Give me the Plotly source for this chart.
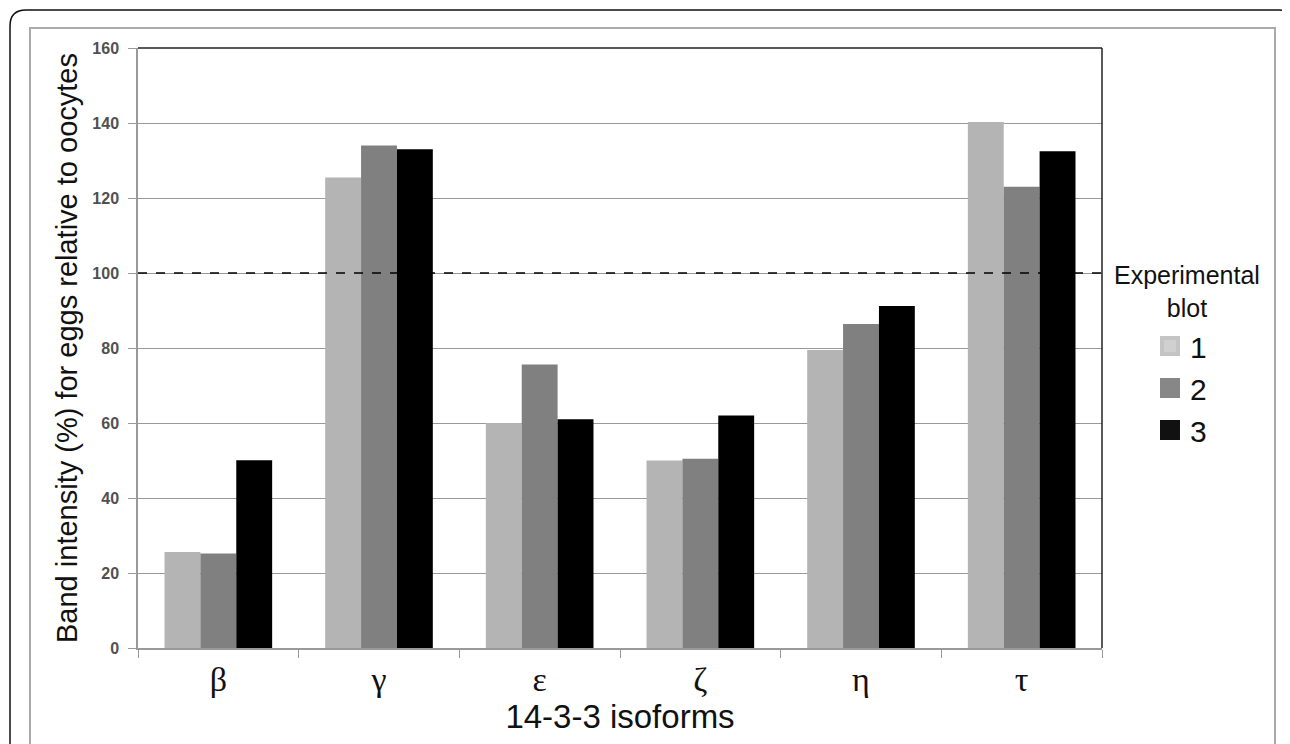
import plotly.graph_objects as go

categories = ["β", "γ", "ε", "ζ", "η", "τ"]
blot1 = [25.6, 125.5, 60.0, 50.0, 79.5, 140.3]
blot2 = [25.2, 134.0, 75.6, 50.5, 86.4, 123.0]
blot3 = [50.1, 133.0, 61.0, 62.0, 91.2, 132.5]
series_names = ["1", "2", "3"]
bar_colors = ["#b4b4b4", "#808080", "#000000"]
legend_fill = ["#d0d0d0", "#878787", "#111111"]
legend_line = ["#c4c4c4", "#878787", "#111111"]

OFF = 8  # page body margin
W, H = 1282, 736
# plot area in screen coordinates
L, R, T, B = 138, 1102, 48, 648


def px(x):
    return (x - L) / (R - L)


def py(y):
    return (B - y) / (B - T)


fig = go.Figure()
for name, vals, col in zip(series_names, [blot1, blot2, blot3], bar_colors):
    fig.add_trace(go.Bar(x=categories, y=vals, name=name, marker_color=col,
                         marker_line_width=0, showlegend=False))
for name, fc, lc in zip(series_names, legend_fill, legend_line):
    fig.add_trace(go.Scatter(x=[None], y=[None], mode="markers", name=name,
                             marker=dict(symbol="square", size=16, color=fc,
                                         line=dict(color=lc, width=4)),
                             showlegend=True))

shapes = []
# outer rounded border
shapes.append(dict(type="path", xref="paper", yref="paper",
                   path=(f"M {px(10)},{py(760)} L {px(10)},{py(26)} "
                         f"Q {px(10)},{py(10)} {px(26)},{py(10)} "
                         f"L {px(1279)},{py(10)} Q {px(1289)},{py(10)} {px(1289)},{py(18)}"),
                   line=dict(color="#111111", width=1.5)))
# inner gray frame
shapes.append(dict(type="path", xref="paper", yref="paper",
                   path=(f"M {px(30)},{py(760)} L {px(30)},{py(28)} "
                         f"L {px(1275)},{py(28)} L {px(1275)},{py(760)}"),
                   line=dict(color="#aaaaaa", width=2)))
# top and right black frame of plot
shapes.append(dict(type="line", xref="paper", yref="paper", x0=0, x1=1, y0=1, y1=1,
                   line=dict(color="#222222", width=1.5)))
shapes.append(dict(type="line", xref="paper", yref="paper", x0=1, x1=1, y0=0, y1=1,
                   line=dict(color="#222222", width=1.5)))
# reference line at 100
shapes.append(dict(type="line", xref="paper", yref="y", x0=0, x1=px(1108), y0=100, y1=100,
                   line=dict(color="#000000", width=1.5, dash="dash")))

fig.update_layout(
    width=W, height=H,
    margin=dict(l=L - OFF, r=W - (R - OFF), t=T - OFF, b=H - (B - OFF)),
    paper_bgcolor="white", plot_bgcolor="white",
    barmode="group", bargap=0.33, bargroupgap=0,
    font=dict(family="Liberation Sans, Arial", color="#000000"),
    shapes=shapes,
    showlegend=True,
    legend=dict(x=px(1150), y=py(320), xanchor="left", yanchor="top",
                font=dict(size=30, color="#111111"), bgcolor="rgba(0,0,0,0)",
                itemsizing="trace", tracegroupgap=0),
    annotations=[dict(text="Experimental<br>blot", xref="paper", yref="paper",
                      x=px(1187), y=py(259), xanchor="center", yanchor="top",
                      showarrow=False, align="center",
                      font=dict(size=25, color="#111111"))],
)
fig.update_xaxes(
    type="category", showline=True, linecolor="#999999", linewidth=1.5,
    ticks="outside", tickson="boundaries", ticklen=8, tickcolor="#999999",
    tickfont=dict(family="Liberation Serif, Times New Roman", size=34, color="#111111"),
    ticklabelstandoff=0,
    title=dict(text="14-3-3 isoforms", font=dict(size=33, color="#111111"), standoff=2),
    showgrid=False,
)
fig.update_yaxes(
    range=[0, 160], dtick=20, showline=True, linecolor="#999999", linewidth=1.5,
    ticks="outside", ticklen=8, tickcolor="#999999",
    tickfont=dict(size=16, color="#505050", weight="bold"),
    ticklabelstandoff=6,
    showgrid=True, gridcolor="#999999", gridwidth=1, zeroline=False,
    title=dict(text="Band intensity (%) for eggs relative to oocytes",
               font=dict(size=29, color="#111111"), standoff=6),
)

fig.write_html("out.html")
